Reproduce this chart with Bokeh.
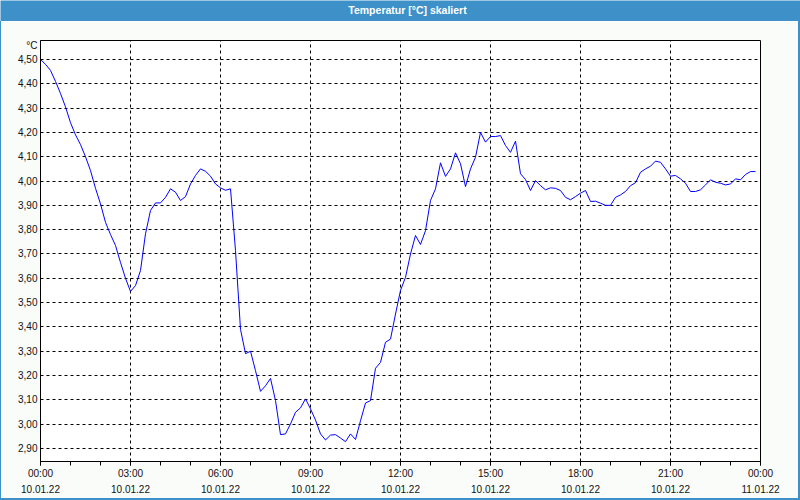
from bokeh.plotting import figure
from bokeh.layouts import column, row
from bokeh.models import FixedTicker, CustomJSTickFormatter, Range1d, Spacer
from bokeh.core.properties import value
from bokeh.embed import file_html
from bokeh.resources import INLINE

# sampling every 10 minutes starting 10.01.22 00:00
minutes = list(range(0, 1440, 10))
temps = [
    4.500, 4.480, 4.455, 4.410, 4.360, 4.305, 4.240, 4.190, 4.150, 4.100,
    4.043, 3.970, 3.906, 3.830, 3.780, 3.735, 3.665, 3.600, 3.546, 3.570,
    3.632, 3.783, 3.879, 3.910, 3.910, 3.933, 3.968, 3.954, 3.920, 3.936,
    3.988, 4.023, 4.050, 4.040, 4.020, 3.988, 3.972, 3.962, 3.968, 3.714,
    3.390, 3.290, 3.300, 3.220, 3.135, 3.158, 3.188, 3.097, 2.957, 2.960,
    3.001, 3.049, 3.067, 3.104, 3.063, 3.017, 2.960, 2.935, 2.955, 2.957,
    2.943, 2.928, 2.960, 2.937, 3.014, 3.087, 3.097, 3.230, 3.254, 3.337,
    3.350, 3.453, 3.550, 3.604, 3.700, 3.776, 3.739, 3.796, 3.920, 3.968,
    4.075, 4.019, 4.050, 4.116, 4.071, 3.977, 4.050, 4.098, 4.200, 4.160,
    4.183, 4.183, 4.187, 4.146, 4.118, 4.164, 4.030, 4.006, 3.961, 4.002,
    3.981, 3.964, 3.972, 3.970, 3.961, 3.933, 3.923, 3.936, 3.950, 3.961,
    3.916, 3.917, 3.909, 3.900, 3.900, 3.933, 3.943, 3.957, 3.981, 3.993,
    4.036, 4.050, 4.061, 4.082, 4.077, 4.050, 4.020, 4.023, 4.009, 3.991,
    3.957, 3.957, 3.964, 3.984, 4.005, 3.995, 3.991, 3.984, 3.988, 4.009,
    4.005, 4.027, 4.039, 4.039,
]

x_ticks = [0, 3, 6, 9, 12, 15, 18, 21, 24]
x_tick_labels = ["00:00\n10.01.22", "03:00\n10.01.22", "06:00\n10.01.22",
                 "09:00\n10.01.22", "12:00\n10.01.22", "15:00\n10.01.22",
                 "18:00\n10.01.22", "21:00\n10.01.22", "00:00\n11.01.22"]
x_minor_ticks = list(range(0, 25))
y_ticks = [2.9, 3.0, 3.1, 3.2, 3.3, 3.4, 3.5, 3.6, 3.7, 3.8, 3.9,
           4.0, 4.1, 4.2, 4.3, 4.4, 4.5]
y_tick_labels = ["2,90", "3,00", "3,10", "3,20", "3,30", "3,40", "3,50", "3,60",
                 "3,70", "3,80", "3,90", "4,00", "4,10", "4,20", "4,30", "4,40", "4,50"]
unit_text = "°C"
unit_pos = 4.557   # height of the unit text on the value axis
title_text = "Temperatur [°C] skaliert"

hours = [m / 60 for m in minutes]

FONT = "Liberation Sans"
BLUE = "#3d90c8"
BG = "#f9fcf9"

LOOKUP = """
for (let i = 0; i < tvals.length; i++) { if (Math.abs(tvals[i] - tick) < 1e-6) return tlabels[i]; }
return "";
"""

# ---- title bar ----
t = figure(width=800, height=21, output_backend="svg", toolbar_location=None,
           x_range=Range1d(0, 800), y_range=Range1d(0, 21),
           x_axis_type=None, y_axis_type=None, min_border=0)
t.border_fill_color = BLUE
t.background_fill_color = BLUE
t.outline_line_color = None
t.grid.visible = False
t.text(x=[407], y=[11.5], text=[title_text], text_align="center", text_baseline="middle",
       text_font=value(FONT), text_font_size="10.5px", text_font_style="bold",
       text_color="white")

# ---- main chart ----
p = figure(width=797, height=477, output_backend="svg", toolbar_location=None,
           x_range=Range1d(0, 24), y_range=Range1d(2.8465, 4.578),
           min_border_left=39, min_border_right=38, min_border_top=19,
           min_border_bottom=37)
p.border_fill_color = BG
p.background_fill_color = "#ffffff"
p.outline_line_color = "black"
p.outline_line_alpha = 1.0
p.outline_line_width = 1

p.line(hours, temps, line_color="#0000ff", line_width=1)

xa = p.xaxis[0]
xa.ticker = FixedTicker(ticks=x_ticks, minor_ticks=x_minor_ticks)
xa.formatter = CustomJSTickFormatter(args=dict(tvals=x_ticks, tlabels=x_tick_labels), code=LOOKUP)
xa.axis_line_color = "black"
xa.major_tick_line_color = "black"
xa.minor_tick_line_color = "black"
xa.major_tick_out = 4
xa.major_tick_in = 0
xa.minor_tick_out = 4
xa.minor_tick_in = 0
xa.major_label_standoff = 2
xa.major_label_text_font = FONT
xa.major_label_text_font_size = "10px"
xa.major_label_text_color = "#111111"
xa.major_label_text_line_height = 1.5

ya = p.yaxis[0]
ya.ticker = FixedTicker(ticks=y_ticks + [unit_pos], minor_ticks=[])
ya.formatter = CustomJSTickFormatter(args=dict(tvals=y_ticks + [unit_pos],
                                               tlabels=y_tick_labels + [unit_text]), code=LOOKUP)
ya.axis_line_color = "black"
ya.major_tick_out = 0
ya.major_tick_in = 0
ya.minor_tick_out = 0
ya.minor_tick_in = 0
ya.major_label_standoff = 3
ya.major_label_text_font = FONT
ya.major_label_text_font_size = "10px"
ya.major_label_text_color = "#111111"

p.xgrid.ticker = FixedTicker(ticks=x_ticks)
p.ygrid.ticker = FixedTicker(ticks=y_ticks)
p.grid.grid_line_color = "black"
p.grid.grid_line_alpha = 1.0
p.grid.grid_line_dash = "3 3"
p.grid.grid_line_width = 1

left_edge = Spacer(width=1, height=477, styles={"background-color": BLUE})
right_edge = Spacer(width=2, height=477, styles={"background-color": BLUE})
bottom_edge = Spacer(width=800, height=2, styles={"background-color": BLUE})

layout = column(t, row(left_edge, p, right_edge, spacing=0), bottom_edge, spacing=0)

open("out.html", "w").write(file_html(layout, INLINE))
